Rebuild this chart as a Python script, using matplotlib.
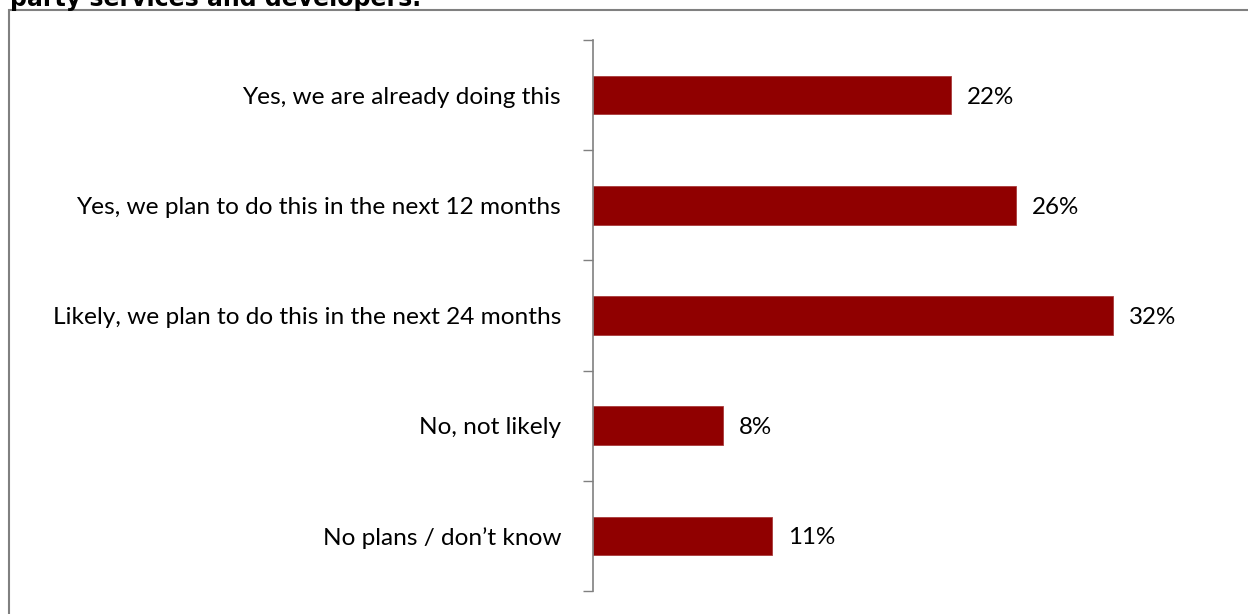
import matplotlib
matplotlib.use("Agg")
import matplotlib.pyplot as plt
from matplotlib.patches import Rectangle

categories = [
    "Yes, we are already doing this",
    "Yes, we plan to do this in the next 12 months",
    "Likely, we plan to do this in the next 24 months",
    "No, not likely",
    "No plans / don\u2019t know",
]
values = [22, 26, 32, 8, 11]
value_labels = ["22%", "26%", "32%", "8%", "11%"]
title = "party services and developers."

W, H = 1248, 614
fig = plt.figure(figsize=(W / 100, H / 100), dpi=100)
plt.rcParams["font.family"] = ["Lato", "DejaVu Sans"]

# outer frame of the chart area
fig.patches.append(Rectangle((9 / W, -0.1), 1.2, (H - 10) / H + 0.1,
                             transform=fig.transFigure, fill=False,
                             edgecolor="#808080", linewidth=1.5))

# title, partly clipped by the top edge
fig.text(10 / W, (H - 6) / H, title, fontsize=17, fontweight="bold",
         family="DejaVu Sans", va="baseline", ha="left")

ax = fig.add_axes([593 / W, (H - 591) / H, 650 / W, 551 / H])
n = len(categories)
ypos = list(range(n))
ax.barh(ypos, values, height=0.35, color="#900000", edgecolor="#a83a3a",
        linewidth=0.6)
ax.set_ylim(n - 0.5, -0.5)
ax.set_xlim(0, 40)

for y, v, lab in zip(ypos, values, value_labels):
    ax.annotate(lab, (v, y), xytext=(11.5, 0), textcoords="offset points",
                va="center_baseline", ha="left", fontsize=17.4, color="black")

ax.set_yticks([i - 0.5 for i in range(n + 1)])
ax.set_yticklabels([])
ax.set_yticks(ypos, minor=True)
ax.set_yticklabels(categories, minor=True, fontsize=17.6)
ax.tick_params(axis="y", which="minor", length=0, pad=23)
ax.tick_params(axis="y", which="major", length=7, color="#808080", width=1)
ax.set_xticks([])
for s in ["top", "right", "bottom"]:
    ax.spines[s].set_visible(False)
ax.spines["left"].set_color("#808080")
ax.spines["left"].set_linewidth(1.2)

fig.savefig("out.png", dpi=100)
